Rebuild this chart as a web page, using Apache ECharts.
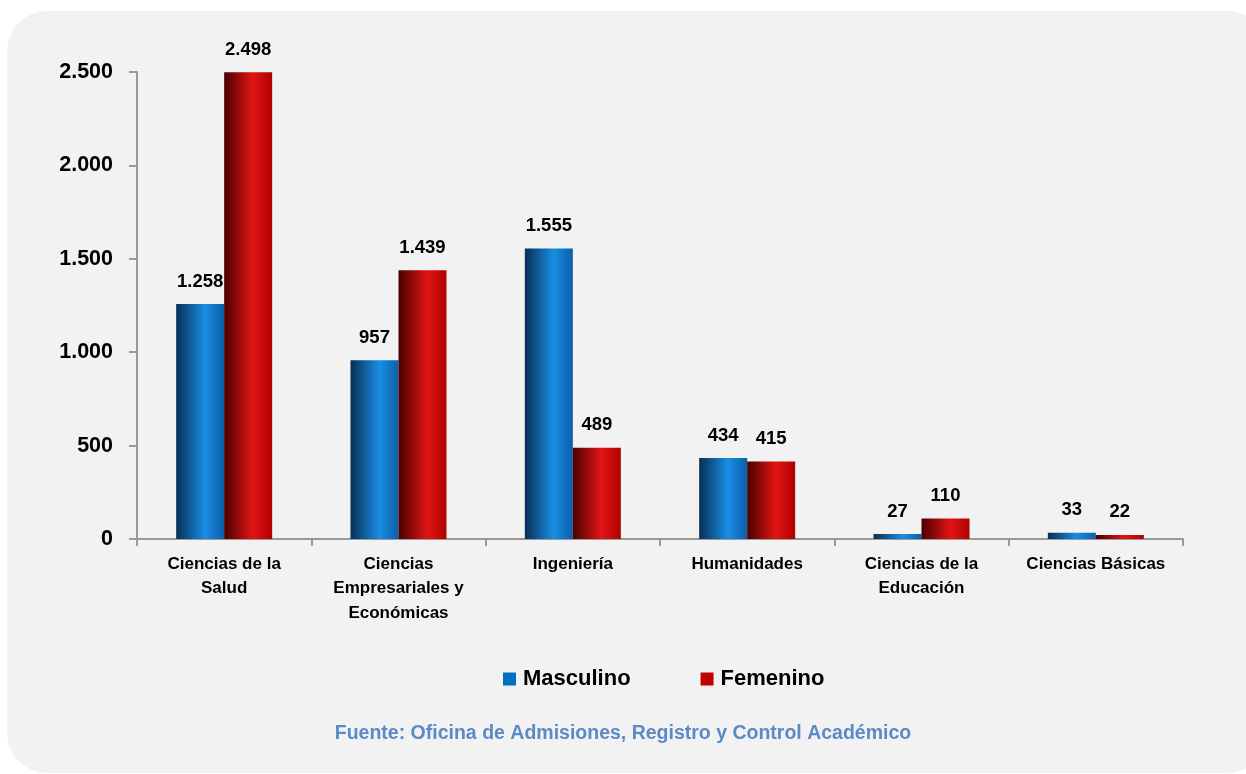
<!DOCTYPE html>
<html><head><meta charset="utf-8">
<script src="https://cdn.jsdelivr.net/npm/echarts@6/dist/echarts.min.js"></script>
<style>html,body{margin:0;padding:0;background:#fff}#c{width:1246px;height:774px}</style>
</head><body><div id="c"></div>
<script>
const categories = ['Ciencias de la\nSalud', 'Ciencias\nEmpresariales y\nEconómicas', 'Ingeniería', 'Humanidades', 'Ciencias de la\nEducación', 'Ciencias Básicas'];
const masculino = [1258, 957, 1555, 434, 27, 33];
const femenino = [2498, 1439, 489, 415, 110, 22];
const yTicks = [0, 500, 1000, 1500, 2000, 2500];
const FONT = "'Liberation Sans Narrow', 'Arial Narrow', 'Liberation Sans', Arial, sans-serif";
function fmt(v){ return String(v).replace(/\B(?=(\d{3})+(?!\d))/g, '.'); }
function grad(c1,c2,c3){ return {type:'linear',x:0,y:0,x2:1,y2:0,colorStops:[{offset:0,color:c1},{offset:0.6,color:c2},{offset:1,color:c3}]}; }
const chart = echarts.init(document.getElementById('c'), null, {renderer:'canvas'});
chart.setOption({
  backgroundColor:'#ffffff',
  animation:false,
  graphic:[{type:'rect', z:-10, shape:{x:7,y:11,width:1260,height:762,r:40}, style:{fill:'#f2f2f2'}},
    {type:'text', left:'center', top:724, style:{text:'Fuente: Oficina de Admisiones, Registro y Control Académico', font:"bold 19.5px "+FONT, fill:'#5b8ac6'}}],
  grid:{left:137, right:63, top:72, bottom:235},
  legend:{top:663, left:498, itemWidth:13, itemHeight:13, itemGap:70, icon:'rect',
    textStyle:{fontFamily:FONT, fontWeight:'bold', fontSize:22, color:'#000', padding:[0,0,0,2]},
    data:[{name:'Masculino', itemStyle:{color:'#0070c0'}},{name:'Femenino', itemStyle:{color:'#c00000'}}]},
  xAxis:{type:'category', data:categories,
    axisLine:{lineStyle:{color:'#999999', width:2}},
    axisTick:{show:true, length:7, lineStyle:{color:'#999999', width:2}},
    axisLabel:{fontFamily:FONT, fontWeight:'bold', fontSize:17, color:'#000', lineHeight:24.5, margin:13, interval:0}},
  yAxis:{type:'value', min:0, max:2500, interval:500,
    axisLine:{show:true, lineStyle:{color:'#999999', width:2}},
    axisTick:{show:true, length:8, lineStyle:{color:'#999999', width:2}},
    splitLine:{show:false},
    axisLabel:{fontFamily:FONT, fontWeight:'bold', fontSize:21.5, color:'#000', margin:24, formatter:v=>fmt(v)}},
  series:[
    {name:'Masculino', type:'bar', data:masculino, barWidth:48, barGap:'0%',
     itemStyle:{color:grad('#062f55','#1a8de4','#0a5fa8')},
     label:{show:true, position:'top', distance:13, fontFamily:FONT, fontWeight:'bold', fontSize:18.5, color:'#000', formatter:p=>fmt(p.value)}},
    {name:'Femenino', type:'bar', data:femenino, barWidth:48, barGap:'0%',
     itemStyle:{color:grad('#4a0000','#e21414','#b00000')},
     label:{show:true, position:'top', distance:13, fontFamily:FONT, fontWeight:'bold', fontSize:18.5, color:'#000', formatter:p=>fmt(p.value)}}
  ]
});
</script></body></html>
